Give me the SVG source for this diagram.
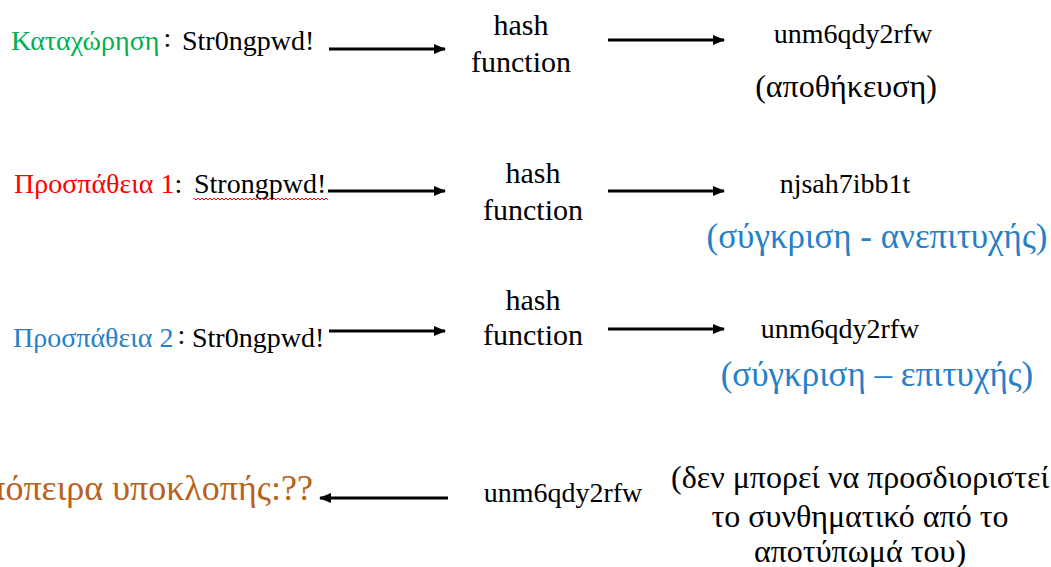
<svg xmlns="http://www.w3.org/2000/svg" width="1051" height="567" viewBox="0 0 1051 567">
  <style>
    text { font-family: 'Liberation Serif', 'DejaVu Serif', serif; fill: #000; }
    .t28 { font-size: 28px; }
    .t30 { font-size: 30px; }
    .t32 { font-size: 32px; }
    .t35 { font-size: 35px; }
    .t36 { font-size: 36px; }
    .mid { text-anchor: middle; }
    .green { fill: #00B050; }
    .red { fill: #FF0000; }
    .blue { fill: #2680C8; }
    .brown { fill: #B8621B; }
    .arrow { stroke: #000; stroke-width: 3; fill: none; marker-end: url(#head); }
  </style>
  <defs>
    <marker id="head" markerWidth="12" markerHeight="10" refX="11" refY="5" orient="auto" markerUnits="userSpaceOnUse">
      <path d="M0,0 L12,5 L0,10 Z" fill="#000"/>
    </marker>
  </defs>
  <rect width="1051" height="567" fill="#fff"/>

  <!-- row 1: registration -->
  <g id="reg-input">
    <text class="t28" x="11" y="50"><tspan class="green">Καταχώρηση</tspan><tspan dx="4" dy="-3">:</tspan></text>
    <text class="t28" x="182" y="50">Str0ngpwd!</text>
  </g>
  <g id="reg-hash">
    <text class="t30 mid" x="521" y="35">hash</text>
    <text class="t30 mid" x="521" y="72">function</text>
  </g>
  <g id="reg-result">
    <text class="t28 mid" x="853" y="43">unm6qdy2rfw</text>
    <text class="t32 mid" x="846" y="97">(αποθήκευση)</text>
  </g>

  <!-- row 2: first attempt -->
  <g id="try1-input">
    <text class="t28" x="14" y="193"><tspan class="red">Προσπάθεια 1</tspan><tspan>: </tspan></text>
    <text class="t28" x="194" y="193">Strongpwd!</text>
    <path d="M194,198 l2,2 l2,-2 l2,2 l2,-2 l2,2 l2,-2 l2,2 l2,-2 l2,2 l2,-2 l2,2 l2,-2 l2,2 l2,-2 l2,2 l2,-2 l2,2 l2,-2 l2,2 l2,-2 l2,2 l2,-2 l2,2 l2,-2 l2,2 l2,-2 l2,2 l2,-2 l2,2 l2,-2 l2,2 l2,-2 l2,2 l2,-2 l2,2 l2,-2 l2,2 l2,-2 l2,2 l2,-2 l2,2 l2,-2 l2,2 l2,-2 l2,2 l2,-2 l2,2 l2,-2 l2,2 l2,-2 l2,2 l2,-2 l2,2 l2,-2 l2,2 l2,-2 l2,2 l2,-2 l2,2 l2,-2 l2,2 l2,-2 l2,2 l2,-2 l2,2 l2,-2 l2,2" fill="none" stroke="#FF0000" stroke-width="1"/>
  </g>
  <g id="try1-hash">
    <text class="t30 mid" x="533" y="183">hash</text>
    <text class="t30 mid" x="533" y="220">function</text>
  </g>
  <g id="try1-result">
    <text class="t28 mid" x="845" y="193">njsah7ibb1t</text>
    <text class="t35 mid blue" x="877" y="248">(σύγκριση - ανεπιτυχής)</text>
  </g>

  <!-- row 3: second attempt -->
  <g id="try2-input">
    <text class="t28" x="13" y="347"><tspan class="blue">Προσπάθεια 2</tspan><tspan dx="4" dy="-3">:</tspan></text>
    <text class="t28" x="192" y="347">Str0ngpwd!</text>
  </g>
  <g id="try2-hash">
    <text class="t30 mid" x="533" y="310">hash</text>
    <text class="t30 mid" x="533" y="345">function</text>
  </g>
  <g id="try2-result">
    <text class="t28 mid" x="840" y="338">unm6qdy2rfw</text>
    <text class="t35 mid blue" x="877" y="386">(σύγκριση – επιτυχής)</text>
  </g>

  <!-- row 4: interception -->
  <g id="intercept">
    <text class="t36 brown" x="313" y="500" text-anchor="end">Απόπειρα υποκλοπής:??</text>
  </g>
  <g id="stolen-hash">
    <text class="t28 mid" x="563" y="502">unm6qdy2rfw</text>
  </g>
  <g id="note">
    <text class="t32 mid" x="860" y="488">(δεν μπορεί να προσδιοριστεί</text>
    <text class="t32 mid" x="860" y="527">το συνθηματικό από το</text>
    <text class="t32 mid" x="860" y="562">αποτύπωμά του)</text>
  </g>

  <!-- connectors -->
  <g id="connectors">
    <line class="arrow" x1="329" y1="49" x2="445" y2="49"/>
    <line class="arrow" x1="608" y1="40" x2="724" y2="40"/>
    <line class="arrow" x1="328" y1="191" x2="445" y2="191"/>
    <line class="arrow" x1="608" y1="191" x2="724" y2="191"/>
    <line class="arrow" x1="329" y1="331" x2="445" y2="331"/>
    <line class="arrow" x1="608" y1="329" x2="724" y2="329"/>
    <line class="arrow" x1="448" y1="498" x2="320" y2="498"/>
  </g>
</svg>
